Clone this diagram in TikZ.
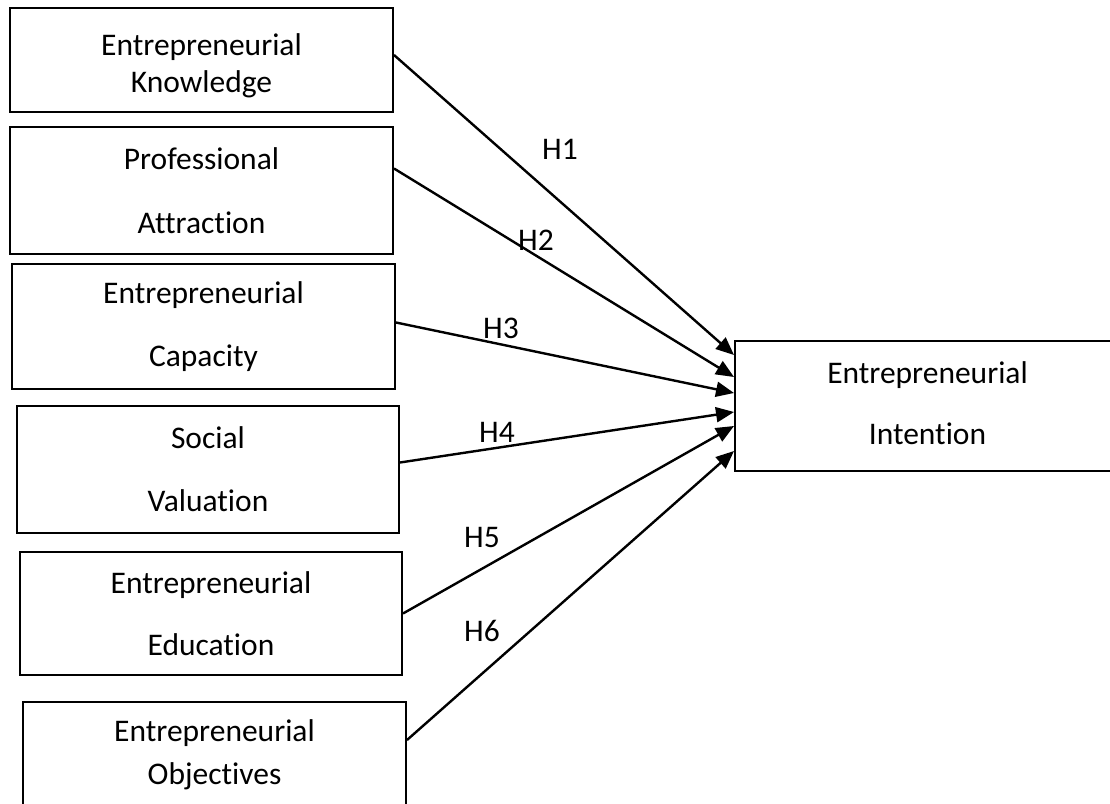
\documentclass[tikz,border=0pt]{standalone}
\usepackage{fontspec}
\setmainfont{Carlito}[Ligatures=NoCommon]
\usetikzlibrary{positioning}
\usetikzlibrary{arrows.meta}
\usetikzlibrary{calc}
\tikzstyle{construct}=[draw,line width=2pt,align=center,inner sep=0pt,font=\fontsize{31.5}{37}\selectfont]
\tikzstyle{path edge}=[draw,line width=2.4pt,-{Triangle[length=18pt,width=15pt]}]
\tikzstyle{hyp}=[font=\fontsize{31.5}{37}\selectfont,inner sep=0pt]

\begin{document}
\begin{tikzpicture}[x=1pt,y=-1pt]

    \path[use as bounding box,clip] (0,0) rectangle (1110,803);

    % predictors
    \node[construct,minimum width=383pt,minimum height=104pt] (kn) at (201.5,60) {\rule{0pt}{33pt}Entrepreneurial\\Knowledge};
    \node[construct,minimum width=383pt,minimum height=127pt] (pa) at (201.5,190.5) {Professional\\[27pt]Attraction};
    \node[construct,minimum width=383pt,minimum height=125pt] (ca) at (203.5,326.5) {Entrepreneurial\\[26pt]Capacity};
    \node[construct,minimum width=382pt,minimum height=127pt] (sv) at (208,469.5) {Social\\[26pt]Valuation};
    \node[construct,minimum width=382pt,minimum height=123pt] (ed) at (211,613.5) {Entrepreneurial\\[25pt]Education};
    \node[construct,minimum width=383pt,minimum height=106pt] (ob) at (214.5,755) {Entrepreneurial\\[6pt]Objectives};

    % outcome
    \node[construct,minimum width=385pt,minimum height=130pt] (in) at (927.5,406) {Entrepreneurial\\[24pt]Intention\rule[-6pt]{0pt}{0pt}};

    \foreach \source/\sy/\ey/\k/\pos in {kn/5/51/1/{(560,149)}, pa/22/29/2/{(536,240)}, ca/4/13/3/{(501,328)}, sv/7/-6/4/{(497,432)}, ed/0/-20/5/{(482,537)}, ob/15/-45/6/{(482,631)}}
    {
        \path[path edge] ([yshift=\sy pt]\source.east) -- ([yshift=\ey pt]in.west);
        \node[hyp] (h\k) at \pos {H\k};
    }

\end{tikzpicture}
\end{document}
